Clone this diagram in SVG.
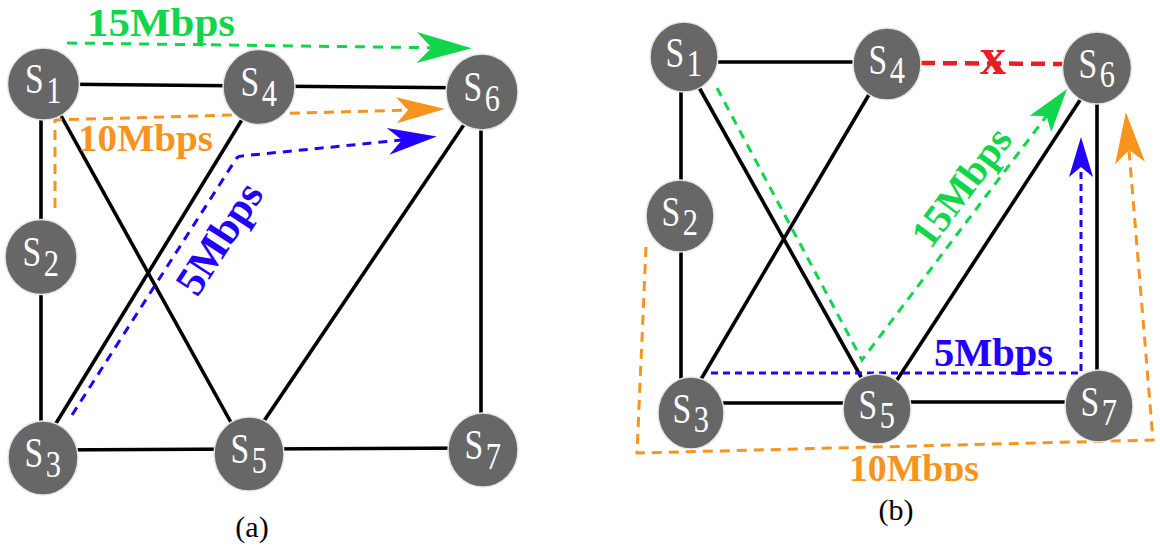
<svg xmlns="http://www.w3.org/2000/svg" width="1160" height="552" viewBox="0 0 1160 552">
<style>
.edge{stroke:#000;stroke-width:3.6;fill:none}
.node ellipse{fill:#676767;stroke:#e6e6e6;stroke-width:1.5}
.lbl{font-family:"Liberation Serif","DejaVu Serif",serif;fill:#fff;font-size:42px}
.sub{font-size:38px}
.bw{font-family:"Liberation Serif","DejaVu Serif",serif;font-weight:bold}
.cap{font-family:"Liberation Serif","DejaVu Serif",serif;font-size:30px;fill:#000;text-anchor:middle}
.g{stroke:#11d64b;fill:none;stroke-width:3}
.o{stroke:#f7941d;fill:none;stroke-width:3}
.b{stroke:#2200ff;fill:none;stroke-width:3}
</style>
<defs>
<marker id="aGL" markerUnits="userSpaceOnUse" orient="auto" refX="0" refY="0" markerWidth="10" markerHeight="10" overflow="visible"><path d="M40,0 L-15,-15.5 L0,0 L-15,15.5 Z" fill="#11d64b"/></marker>
<marker id="aOL" markerUnits="userSpaceOnUse" orient="auto" refX="0" refY="0" markerWidth="10" markerHeight="10" overflow="visible"><path d="M37,0 L-11.5,-13 L0,0 L-11.5,13 Z" fill="#f7941d"/></marker>
<marker id="aBL" markerUnits="userSpaceOnUse" orient="auto" refX="0" refY="0" markerWidth="10" markerHeight="10" overflow="visible"><path d="M35,0 L-14,-13.5 L0,0 L-14,13.5 Z" fill="#2200ff"/></marker>
<marker id="aGR" markerUnits="userSpaceOnUse" orient="auto" refX="0" refY="0" markerWidth="10" markerHeight="10" overflow="visible"><path d="M34,0 L-10,-13.5 L0,0 L-10,13.5 Z" fill="#11d64b"/></marker>
<marker id="aBR" markerUnits="userSpaceOnUse" orient="auto" refX="0" refY="0" markerWidth="10" markerHeight="10" overflow="visible"><path d="M30,0 L-10,-12 L0,0 L-10,12 Z" fill="#2200ff"/></marker>
<marker id="aOR" markerUnits="userSpaceOnUse" orient="auto" refX="0" refY="0" markerWidth="10" markerHeight="10" overflow="visible"><path d="M38,0 L-13,-15 L0,0 L-13,15 Z" fill="#f7941d"/></marker>
<clipPath id="clipO"><rect x="800" y="440" width="250" height="41"/></clipPath>
</defs>

<g id="connectors">
  <!-- (a) edges -->
  <line class="edge" x1="43.5" y1="84" x2="259" y2="86"/>
  <line class="edge" x1="259" y1="86" x2="482" y2="88"/>
  <line class="edge" x1="41" y1="84" x2="41" y2="257"/>
  <line class="edge" x1="41" y1="257" x2="41" y2="458"/>
  <line class="edge" x1="43.5" y1="84" x2="249" y2="455"/>
  <line class="edge" x1="262" y1="87" x2="36" y2="456"/>
  <line class="edge" x1="43" y1="450" x2="249" y2="449"/>
  <line class="edge" x1="249" y1="449" x2="483" y2="448"/>
  <line class="edge" x1="486" y1="92" x2="241" y2="455"/>
  <line class="edge" x1="481" y1="92" x2="481" y2="451"/>
  <!-- (b) edges -->
  <line class="edge" x1="684" y1="62" x2="887" y2="62"/>
  <line class="edge" x1="681" y1="57" x2="681" y2="216"/>
  <line class="edge" x1="681" y1="216" x2="681" y2="400"/>
  <line class="edge" x1="682" y1="57" x2="879" y2="409"/>
  <line class="edge" x1="887" y1="64" x2="684" y2="408"/>
  <line class="edge" x1="691" y1="403" x2="877" y2="403"/>
  <line class="edge" x1="877" y1="402" x2="1099" y2="402"/>
  <line class="edge" x1="1101" y1="68" x2="878" y2="409"/>
  <line class="edge" x1="1097" y1="68" x2="1097" y2="406"/>
  <path d="M921,63 L1063,64" stroke="#ed1c24" stroke-width="4.5" stroke-dasharray="14 8" fill="none"/>
  <!-- (a) flows -->
  <path class="g" d="M67,43 L431.7,47.7" stroke-dasharray="10 8" marker-end="url(#aGL)"/>
  <path class="o" d="M55,208 L55,120 L408,110" stroke-dasharray="10 7" marker-end="url(#aOL)"/>
  <path class="b" d="M72,415 L236,159 Q238,156 242,156 L402,140" stroke-dasharray="9 7" marker-end="url(#aBL)"/>
  <!-- (b) flows -->
  <path class="g" d="M717,88 L862,360 L1046.5,116" stroke-dasharray="9 7" marker-end="url(#aGR)"/>
  <path class="b" d="M711,373 L1081,373 L1081,167" stroke-width="2.5" stroke-dasharray="7 5" marker-end="url(#aBR)"/>
  <path class="o" d="M646,247 L637,453 L1153,440 L1129,150" stroke-dasharray="10 7" marker-end="url(#aOR)"/>
</g>

<g id="labels">
  <text class="bw" x="87" y="36" font-size="40" fill="#11d64b" textLength="148" lengthAdjust="spacingAndGlyphs">15Mbps</text>
  <text class="bw" x="78" y="151" font-size="38" fill="#f7941d" textLength="135" lengthAdjust="spacingAndGlyphs">10Mbps</text>
  <text class="bw" transform="translate(231,246) rotate(-57)" text-anchor="middle" font-size="42" fill="#2200ff" textLength="124" lengthAdjust="spacingAndGlyphs">5Mbps</text>
  <text class="bw" x="993" y="74" text-anchor="middle" font-size="52" fill="#ed1c24">x</text>
  <text class="bw" transform="translate(972,195) rotate(-53)" text-anchor="middle" font-size="40" fill="#11d64b" textLength="138" lengthAdjust="spacingAndGlyphs">15Mbps</text>
  <text class="bw" x="934" y="366" font-size="39" fill="#2200ff" textLength="119" lengthAdjust="spacingAndGlyphs">5Mbps</text>
  <g clip-path="url(#clipO)"><text class="bw" x="849" y="481" font-size="38" fill="#f7941d" textLength="130" lengthAdjust="spacingAndGlyphs">10Mbps</text></g>
  <text class="cap" x="252" y="537">(a)</text>
  <text class="cap" x="896" y="520">(b)</text>
</g>

<g id="a-S1" class="node" transform="translate(43.5,84)"><ellipse rx="36" ry="36"/><text class="lbl" transform="scale(0.8,1)" x="-23" y="9">S<tspan class="sub" dx="3" dy="10">1</tspan></text></g>
<g id="a-S4" class="node" transform="translate(259,87)"><ellipse rx="36" ry="37.5"/><text class="lbl" transform="scale(0.8,1)" x="-23" y="9">S<tspan class="sub" dx="3" dy="10">4</tspan></text></g>
<g id="a-S6" class="node" transform="translate(482,92)"><ellipse rx="36" ry="38"/><text class="lbl" transform="scale(0.8,1)" x="-23" y="9">S<tspan class="sub" dx="3" dy="10">6</tspan></text></g>
<g id="a-S2" class="node" transform="translate(41,257)"><ellipse rx="36" ry="37.5"/><text class="lbl" transform="scale(0.8,1)" x="-23" y="9">S<tspan class="sub" dx="3" dy="10">2</tspan></text></g>
<g id="a-S3" class="node" transform="translate(43,458)"><ellipse rx="35" ry="37"/><text class="lbl" transform="scale(0.8,1)" x="-23" y="9">S<tspan class="sub" dx="3" dy="10">3</tspan></text></g>
<g id="a-S5" class="node" transform="translate(249,454)"><ellipse rx="35" ry="37"/><text class="lbl" transform="scale(0.8,1)" x="-23" y="9">S<tspan class="sub" dx="3" dy="10">5</tspan></text></g>
<g id="a-S7" class="node" transform="translate(483,450)"><ellipse rx="35" ry="37"/><text class="lbl" transform="scale(0.8,1)" x="-23" y="9">S<tspan class="sub" dx="3" dy="10">7</tspan></text></g>

<g id="b-S1" class="node" transform="translate(684,57)"><ellipse rx="34" ry="35"/><text class="lbl" transform="scale(0.8,1)" x="-23" y="10">S<tspan class="sub" dx="3" dy="9">1</tspan></text></g>
<g id="b-S4" class="node" transform="translate(887,64)"><ellipse rx="34" ry="36"/><text class="lbl" transform="scale(0.8,1)" x="-23" y="10">S<tspan class="sub" dx="3" dy="9">4</tspan></text></g>
<g id="b-S6" class="node" transform="translate(1097,68)"><ellipse rx="34.5" ry="36"/><text class="lbl" transform="scale(0.8,1)" x="-23" y="10">S<tspan class="sub" dx="3" dy="9">6</tspan></text></g>
<g id="b-S2" class="node" transform="translate(680,216)"><ellipse rx="34" ry="36"/><text class="lbl" transform="scale(0.8,1)" x="-23" y="10">S<tspan class="sub" dx="3" dy="9">2</tspan></text></g>
<g id="b-S3" class="node" transform="translate(691,413)"><ellipse rx="33" ry="36"/><text class="lbl" transform="scale(0.8,1)" x="-23" y="10">S<tspan class="sub" dx="3" dy="9">3</tspan></text></g>
<g id="b-S5" class="node" transform="translate(877,409)"><ellipse rx="34" ry="35"/><text class="lbl" transform="scale(0.8,1)" x="-23" y="10">S<tspan class="sub" dx="3" dy="9">5</tspan></text></g>
<g id="b-S7" class="node" transform="translate(1099,406)"><ellipse rx="34" ry="36"/><text class="lbl" transform="scale(0.8,1)" x="-23" y="10">S<tspan class="sub" dx="3" dy="9">7</tspan></text></g>
</svg>
